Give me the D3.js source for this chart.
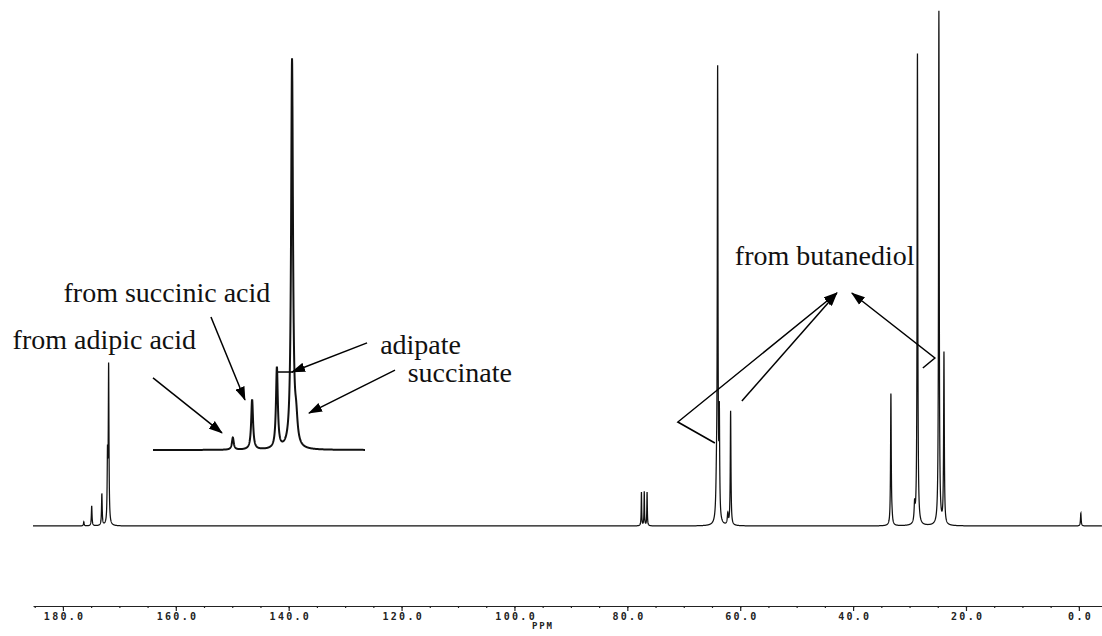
<!DOCTYPE html>
<html>
<head>
<meta charset="utf-8">
<script src="https://cdn.jsdelivr.net/npm/d3@7"></script>
<style>
  body { margin: 0; background: #fff; }
  svg { display: block; }
</style>
</head>
<body>
<div id="chart"></div>
<script>
(function() {

    // size of the page
    var width = 1102;
    var height = 636;

    // main spectrum lines: shift (ppm), intensity (tallest = 100), half width (ppm)
    var peakPpm    = [176.3, 174.9, 173.1, 172.1, 171.9, 77.5, 77.0, 76.5, 64.2, 64.0, 63.7, 62.2, 61.7, 33.3, 33.1, 29.1, 28.6, 24.8, 23.9, -0.35];
    var peakHeight = [0.8,   3.9,   6.2,   12.5,  30.5,  6.6,  6.6,  6.6,  6,    87.5, 19.5, 2.1,  22.2, 25.7, 1,    3.5,  92.2, 100,  33.3, 2.5];
    var peakWidth  = [0.07,  0.07,  0.07,  0.07,  0.07,  0.05, 0.05, 0.05, 0.12, 0.07, 0.07, 0.1,  0.07, 0.07, 0.1,  0.1,  0.07, 0.07, 0.07, 0.07];

    // expanded carbonyl region (inset)
    var insetPpm    = [176.2, 174.8, 173.0, 171.9, 171.6];
    var insetHeight = [3.1,   12.9,  20.9,  100,   6];
    var insetWidth  = [0.08,  0.08,  0.08,  0.08,  0.12];

    // axis ticks
    var majorTicks = [180, 160, 140, 120, 100, 80, 60, 40, 20, 0];
    var minorTicks = d3.range(185, -5, -5);

    // annotation labels: panel, text, position in ppm / intensity of that panel
    var labelPanel = ["inset", "inset", "inset", "inset", "main"];
    var labelText  = ["from adipic acid", "from succinic acid", "adipate", "succinate", "from butanediol"];
    var labelPpm   = [192.2, 188.5, 165.5, 163.5, 60.95];
    var labelInt   = [26.0, 38.1, 24.7, 17.5, 50.8];

    // arrows: panel, points [ppm, intensity], arrowhead at the last point?
    var arrowPanel = ["inset", "inset", "inset", "inset", "inset", "main", "main", "main"];
    var arrowPts = [
        [[182.0, 18.6], [176.99, 4.4]],
        [[177.79, 34.3], [175.32, 12.9]],
        [[166.45, 27.6], [171.9, 20.1]],
        [[164.42, 20.6], [170.67, 9.5]],
        [[172.92, 20.1], [171.83, 20.1]],
        [[64.49, 16.15], [71.05, 20.23], [42.88, 45.33]],
        [[59.71, 24.32], [42.88, 45.33]],
        [[27.64, 30.74], [25.51, 32.68], [40.22, 45.33]]
    ];
    var arrowHead = [true, true, true, true, false, true, true, true];

    var svg = d3.select("#chart")
        .append("svg")
        .attr("width", width)
        .attr("height", height);

    // scales for the full spectrum
    var x = d3.scaleLinear().domain([185.3, -4.1]).range([33, 1102]);
    var y = d3.scaleLinear().domain([0, 100]).range([526, 12]);

    // scales for the inset
    var xi = d3.scaleLinear().domain([182, 166.6]).range([153, 365]);
    var yi = d3.scaleLinear().domain([0, 100]).range([450, 62]);

    function spectrum(pos, hgt, wid, from, to, step) {
        var pts = [];
        for (var p = from; p >= to; p -= step) {
            var s = 0;
            for (var k = 0; k < pos.length; k++) {
                var u = (p - pos[k]) / wid[k];
                s += hgt[k] / (1 + u * u);
            }
            pts.push([p, s]);
        }
        return pts;
    }

    var mainData = spectrum(peakPpm, peakHeight, peakWidth, 185.3, -4.1, 0.015);
    var insetData = spectrum(insetPpm, insetHeight, insetWidth, 182, 166.6, 0.01);

    svg.append("path")
        .datum(mainData)
        .attr("fill", "none")
        .attr("stroke", "#111")
        .attr("stroke-width", 1.25)
        .attr("d", d3.line().x(d => x(d[0])).y(d => y(d[1])));

    svg.append("path")
        .datum(insetData)
        .attr("fill", "none")
        .attr("stroke", "#111")
        .attr("stroke-width", 2)
        .attr("d", d3.line().x(d => xi(d[0])).y(d => yi(d[1])));

    // axis
    var axisY = 606;
    var gMinor = svg.append("g")
        .attr("transform", "translate(0," + axisY + ")")
        .call(d3.axisBottom(x).tickValues(minorTicks).tickSize(2).tickSizeOuter(0).tickFormat(""));
    gMinor.selectAll("path, line").attr("stroke", "#222").attr("stroke-width", 1.2);

    var gAxis = svg.append("g")
        .attr("transform", "translate(0," + axisY + ")")
        .call(d3.axisBottom(x).tickValues(majorTicks).tickSize(5).tickSizeOuter(0)
            .tickPadding(2).tickFormat(d3.format(".1f")));
    gAxis.select(".domain").remove();
    gAxis.selectAll("line").attr("stroke", "#222").attr("stroke-width", 1.2);
    gAxis.selectAll("text")
        .attr("fill", "#222")
        .attr("dx", 1.2)
        .style("font-family", "DejaVu Sans Mono")
        .style("font-weight", "bold")
        .style("font-size", "10px")
        .style("letter-spacing", "2.3px");

    svg.append("text")
        .attr("x", 532)
        .attr("y", 629)
        .attr("fill", "#222")
        .style("font-family", "DejaVu Sans Mono")
        .style("font-weight", "bold")
        .style("font-size", "9px")
        .style("letter-spacing", "1.8px")
        .text("PPM");

    // arrowhead
    svg.append("defs").append("marker")
        .attr("id", "head")
        .attr("markerUnits", "userSpaceOnUse")
        .attr("viewBox", "0 -5 14 10")
        .attr("refX", 13)
        .attr("refY", 0)
        .attr("markerWidth", 14)
        .attr("markerHeight", 10)
        .attr("orient", "auto")
        .append("path")
        .attr("d", "M0,-4.8L14,0L0,4.8Z")
        .attr("fill", "#000");

    arrowPts.forEach(function(pts, i) {
        var sx = arrowPanel[i] === "inset" ? xi : x;
        var sy = arrowPanel[i] === "inset" ? yi : y;
        svg.append("path")
            .attr("d", d3.line().x(d => sx(d[0])).y(d => sy(d[1]))(pts))
            .attr("fill", "none")
            .attr("stroke", "#000")
            .attr("stroke-width", 1.5)
            .attr("marker-end", arrowHead[i] ? "url(#head)" : null);
    });

    labelText.forEach(function(t, i) {
        var sx = labelPanel[i] === "inset" ? xi : x;
        var sy = labelPanel[i] === "inset" ? yi : y;
        svg.append("text")
            .attr("x", sx(labelPpm[i]))
            .attr("y", sy(labelInt[i]))
            .attr("fill", "#111")
            .style("font-family", "Liberation Serif")
            .style("font-size", "28px")
            .text(t);
    });

})();
</script>
</body>
</html>
